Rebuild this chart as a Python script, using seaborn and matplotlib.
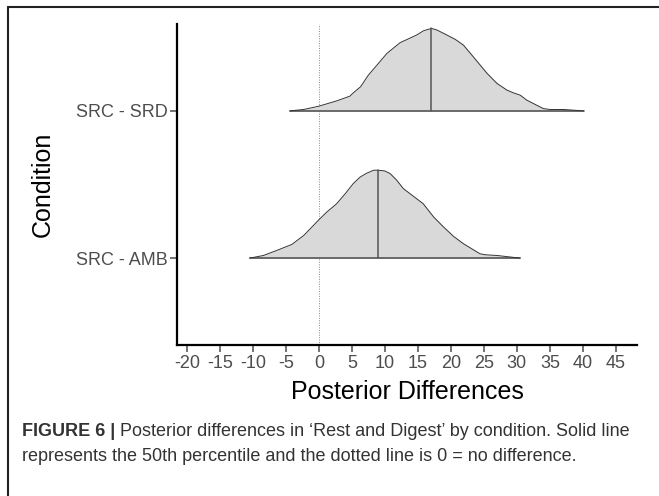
import numpy as np
import pandas as pd
import matplotlib
matplotlib.use("Agg")
import matplotlib.pyplot as plt
from matplotlib.lines import Line2D
import seaborn as sns

# --- datos ---
conditions = ["SRC - AMB", "SRC - SRD"]
medians = [9.0, 17.06]

# curvas de densidad (altura relativa a la separacion entre filas)
amb_x = [-10.5, -8.4, -6.4, -4.1, -2.3, -1.3, 0.0, 1.2, 2.7, 4.0,
         5.2, 6.26, 7.3, 8.3, 9.0, 10.0, 10.8, 11.8, 12.8, 13.8,
         15.8, 17.4, 18.9, 20.4, 21.9, 23.4, 24.4, 25.2, 27.0, 30.5]
amb_h = [0.0, 0.018, 0.052, 0.093, 0.154, 0.2, 0.261, 0.313, 0.37, 0.438,
         0.506, 0.551, 0.578, 0.597, 0.597, 0.592, 0.574, 0.529, 0.472, 0.438,
         0.37, 0.279, 0.211, 0.148, 0.098, 0.057, 0.03, 0.023, 0.018, 0.0]

srd_x = [-4.4, -2.3, 0.0, 2.7, 4.7, 5.2, 6.3, 7.5, 8.8, 10.3,
         12.3, 14.8, 15.85, 17.06, 17.9, 19.4, 20.65, 21.9, 23.4, 25.5,
         27.0, 28.5, 29.5, 30.5, 31.5, 32.5, 34.0, 35.0, 37.1, 40.1]
srd_h = [0.0, 0.0095, 0.032, 0.068, 0.1, 0.122, 0.163, 0.243, 0.311, 0.39,
         0.463, 0.515, 0.544, 0.56, 0.549, 0.515, 0.486, 0.447, 0.367, 0.254,
         0.186, 0.141, 0.122, 0.107, 0.073, 0.05, 0.016, 0.0095, 0.0095, 0.0]

x_ticks = list(range(-20, 50, 5))

caption_bold = "FIGURE 6 |"
caption_1 = " Posterior differences in \u2018Rest and Digest\u2019 by condition. Solid line"
caption_2 = "represents the 50th percentile and the dotted line is 0 = no difference."

# --- tabla larga ---
frames = []
for i, (cond, xs, hs) in enumerate(zip(conditions, [amb_x, srd_x], [amb_h, srd_h])):
    frames.append(pd.DataFrame({"x": xs, "h": hs, "condicion": cond, "base": i + 1}))
df = pd.concat(frames, ignore_index=True)
df["y"] = df["base"] + df["h"]

sns.set_theme(style="ticks")
plt.rcParams["font.family"] = ["Liberation Sans", "DejaVu Sans"]

fig = plt.figure(figsize=(6.59, 4.96), dpi=100)
ax = fig.add_axes([0.2686, 0.3044, 0.698, 0.6472])

# linea punteada en 0
ax.axvline(0, color="#888888", lw=0.7, ls=(0, (1, 1.5)), zorder=1)

for cond, g in df.groupby("condicion", sort=False):
    base = g["base"].iloc[0]
    ax.fill_between(g["x"], base, g["y"], color="#d9d9d9", lw=0, zorder=2)
    ax.plot([g["x"].min(), g["x"].max()], [base, base], color="#555555", lw=1.2, zorder=3)

sns.lineplot(data=df, x="x", y="y", units="condicion", estimator=None,
             color="#333333", lw=0.7, ax=ax, zorder=4, sort=False)

# lineas de la mediana
for i, (cond, med) in enumerate(zip(conditions, medians)):
    g = df[df["condicion"] == cond]
    top = np.interp(med, g["x"], g["y"])
    ax.plot([med, med], [i + 1, top], color="#555555", lw=1.1, zorder=5)

ax.set_xlim(-21.5, 48.2)
ax.set_ylim(0.41, 2.59)
ax.set_xticks(x_ticks)
ax.set_xticklabels([str(t) for t in x_ticks])
ax.set_yticks([1, 2])
ax.set_yticklabels(conditions)

for s in ["top", "right"]:
    ax.spines[s].set_visible(False)
for s in ["left", "bottom"]:
    ax.spines[s].set_linewidth(1.6)
    ax.spines[s].set_color("black")

ax.tick_params(axis="both", colors="#4d4d4d", labelsize=13, length=5, width=1.1, pad=2)
ax.set_xlabel("Posterior Differences", fontsize=18, color="black", labelpad=6)
ax.set_ylabel("Condition", fontsize=18, color="black", labelpad=15)

# marco de la figura
fig.add_artist(Line2D([8 / 659, 1.0], [1 - 7 / 496, 1 - 7 / 496], color="#222222", lw=1.5))
fig.add_artist(Line2D([8 / 659, 8 / 659], [0.0, 1 - 7 / 496], color="#222222", lw=1.5))

# pie de figura
t1 = fig.text(22 / 659, 1 - 436 / 496, caption_bold, fontsize=13, fontweight="bold",
              color="#333333", va="baseline")
fig.canvas.draw()
bb = t1.get_window_extent(renderer=fig.canvas.get_renderer())
fig.text(bb.x1 / fig.bbox.width, 1 - 436 / 496, caption_1, fontsize=13,
         color="#333333", va="baseline")
fig.text(22 / 659, 1 - 461 / 496, caption_2, fontsize=13, color="#333333", va="baseline")

fig.savefig("out.png", dpi=100)
